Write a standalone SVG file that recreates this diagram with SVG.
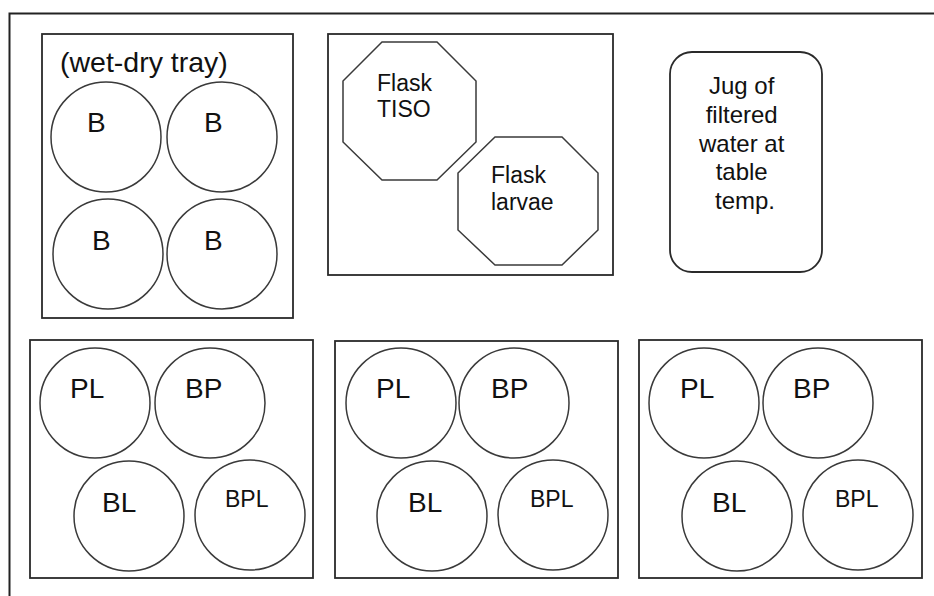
<svg xmlns="http://www.w3.org/2000/svg" width="934" height="596" viewBox="0 0 934 596">
  <style>
    .frame { fill: none; stroke: #222; stroke-width: 2; }
    .box { fill: #fff; stroke: #2a2a2a; stroke-width: 1.8; }
    .dish { fill: #fff; stroke: #3a3a3a; stroke-width: 1.5; }
    .lbl { font-family: "Liberation Sans", Arial, sans-serif; fill: #111; }
    .big { font-size: 28px; }
    .mid { font-size: 24px; }
    .sm { font-size: 23px; }
  </style>
  <rect width="934" height="596" fill="#fff"/>
  <!-- page edge: top and left rule only -->
  <path class="frame" d="M9.5 596 V13.5 H934"/>

  <!-- wet-dry tray with four B dishes -->
  <g id="tray">
    <rect class="box" x="42" y="34" width="251" height="284"/>
    <text class="lbl" x="60" y="72" style="font-size:28.5px">(wet-dry tray)</text>
    <circle class="dish" cx="106" cy="137" r="55"/>
    <circle class="dish" cx="222" cy="137" r="55"/>
    <circle class="dish" cx="108" cy="254" r="55"/>
    <circle class="dish" cx="222" cy="254" r="55"/>
    <text class="lbl big" x="87" y="132">B</text>
    <text class="lbl big" x="204" y="132">B</text>
    <text class="lbl big" x="92" y="250">B</text>
    <text class="lbl big" x="204" y="250">B</text>
  </g>

  <!-- flasks -->
  <g id="flasks">
    <rect class="box" x="328" y="34" width="285" height="241"/>
    <polygon class="dish" points="382,42 437,42 476,81 476,142 437,180 382,180 343,142 343,81"/>
    <polygon class="dish" points="495,137 562,137 598,173 598,230 562,265 495,265 458,230 458,173"/>
    <text class="lbl sm" x="377" y="91">Flask</text>
    <text class="lbl sm" x="377" y="117">TISO</text>
    <text class="lbl sm" x="491" y="183">Flask</text>
    <text class="lbl sm" x="491" y="210">larvae</text>
  </g>

  <!-- water jug -->
  <g id="jug">
    <rect class="box" x="670" y="52" width="152" height="220" rx="22" ry="22"/>
    <text class="lbl mid" text-anchor="middle" x="745">
      <tspan x="745" y="94">Jug of</tspan>
      <tspan x="745" y="123">filtered</tspan>
      <tspan x="745" y="152">water at</tspan>
      <tspan x="745" y="180">table</tspan>
      <tspan x="745" y="209">temp.</tspan>
    </text>
  </g>

  <!-- dish sets -->
  <g id="set1">
    <rect class="box" x="30" y="340" width="283" height="238"/>
    <circle class="dish" cx="95" cy="403" r="55"/>
    <circle class="dish" cx="210" cy="403" r="55"/>
    <circle class="dish" cx="129" cy="516" r="55"/>
    <circle class="dish" cx="250" cy="515" r="55"/>
    <text class="lbl big" x="70" y="398">PL</text>
    <text class="lbl big" x="185" y="398">BP</text>
    <text class="lbl big" x="102" y="512">BL</text>
    <text class="lbl sm" x="225" y="507">BPL</text>
  </g>

  <g id="set2">
    <rect class="box" x="335" y="341" width="283" height="237"/>
    <circle class="dish" cx="401" cy="403" r="55"/>
    <circle class="dish" cx="514" cy="403" r="55"/>
    <circle class="dish" cx="432" cy="516" r="55"/>
    <circle class="dish" cx="553" cy="515" r="55"/>
    <text class="lbl big" x="376" y="398">PL</text>
    <text class="lbl big" x="491" y="398">BP</text>
    <text class="lbl big" x="408" y="512">BL</text>
    <text class="lbl sm" x="530" y="507">BPL</text>
  </g>

  <g id="set3">
    <rect class="box" x="639" y="340" width="283" height="238"/>
    <circle class="dish" cx="704" cy="403" r="55"/>
    <circle class="dish" cx="818" cy="403" r="55"/>
    <circle class="dish" cx="737" cy="516" r="55"/>
    <circle class="dish" cx="858" cy="515" r="55"/>
    <text class="lbl big" x="680" y="398">PL</text>
    <text class="lbl big" x="793" y="398">BP</text>
    <text class="lbl big" x="712" y="512">BL</text>
    <text class="lbl sm" x="835" y="507">BPL</text>
  </g>

  <g id="connectors"/>
</svg>
